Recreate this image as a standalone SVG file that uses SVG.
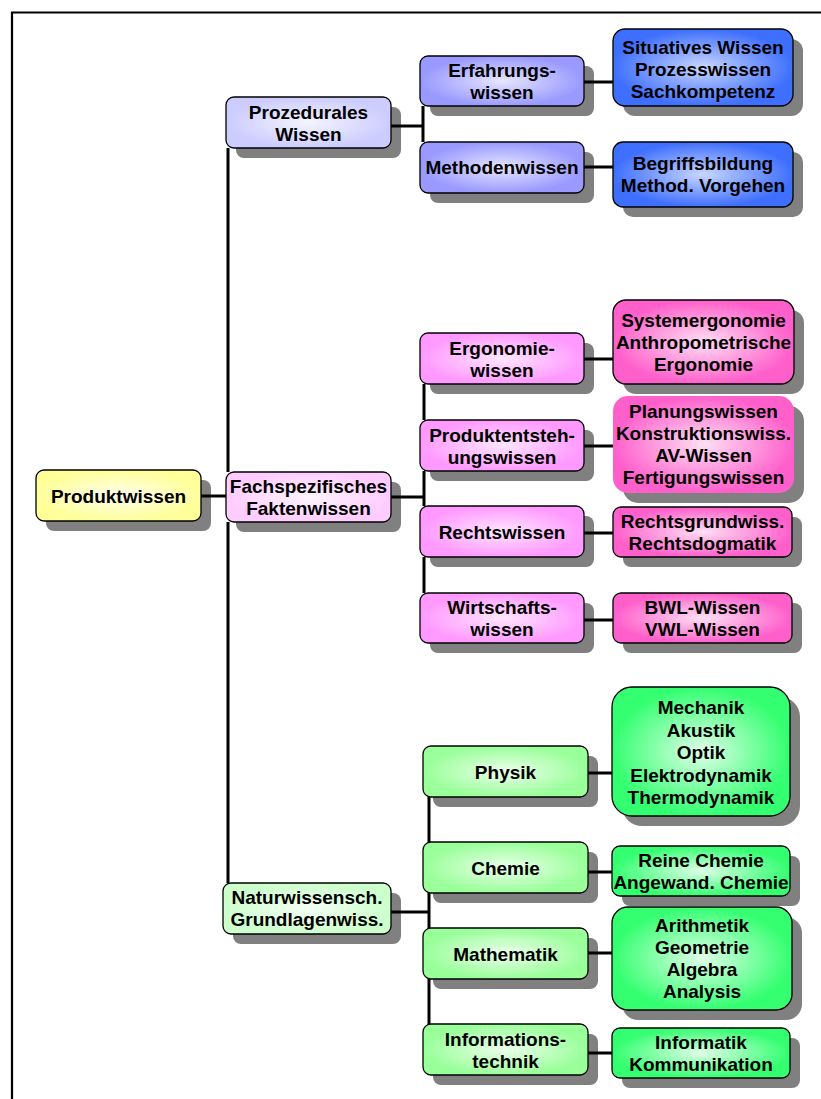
<svg xmlns="http://www.w3.org/2000/svg" width="821" height="1099" viewBox="0 0 821 1099">
  <defs>
    <radialGradient id="gYellow" cx="50%" cy="50%" r="50%"><stop offset="0" stop-color="#ffffee"/><stop offset="1" stop-color="#ffff99"/></radialGradient>
    <radialGradient id="gLav1" cx="50%" cy="50%" r="50%"><stop offset="0" stop-color="#f4f4ff"/><stop offset="1" stop-color="#ccccff"/></radialGradient>
    <radialGradient id="gLav2" cx="50%" cy="50%" r="50%"><stop offset="0" stop-color="#e6e6ff"/><stop offset="1" stop-color="#9999ff"/></radialGradient>
    <radialGradient id="gBlue" cx="50%" cy="50%" r="50%"><stop offset="0" stop-color="#c8d6ff"/><stop offset="1" stop-color="#3f6fff"/></radialGradient>
    <radialGradient id="gPink1" cx="50%" cy="50%" r="50%"><stop offset="0" stop-color="#fff4ff"/><stop offset="1" stop-color="#ffccff"/></radialGradient>
    <radialGradient id="gPink2" cx="50%" cy="50%" r="50%"><stop offset="0" stop-color="#ffe6ff"/><stop offset="1" stop-color="#ff99ff"/></radialGradient>
    <radialGradient id="gMag" cx="50%" cy="50%" r="50%"><stop offset="0" stop-color="#ffe0f4"/><stop offset="1" stop-color="#ff5fcb"/></radialGradient>
    <radialGradient id="gGreen1" cx="50%" cy="50%" r="50%"><stop offset="0" stop-color="#f4fff4"/><stop offset="1" stop-color="#ccffcc"/></radialGradient>
    <radialGradient id="gGreen2" cx="50%" cy="50%" r="50%"><stop offset="0" stop-color="#ecffec"/><stop offset="1" stop-color="#99ff99"/></radialGradient>
    <radialGradient id="gGreen3" cx="50%" cy="50%" r="50%"><stop offset="0" stop-color="#e0ffe8"/><stop offset="1" stop-color="#33ff70"/></radialGradient>
  </defs>
  <style>
    .shadow { fill: #808080; }
    .box { stroke: #000; stroke-width: 1.3; }
    .noline { stroke: none; }
    text { font-family: "Liberation Sans", Arial, sans-serif; font-weight: bold; font-size: 19px; fill: #000; text-anchor: middle; }
    .conn { stroke: #000; stroke-width: 3; fill: none; }
    .frame { stroke: #000; stroke-width: 2.2; fill: none; }
  </style>

  <rect width="821" height="1099" fill="#fff"/>
  <path class="frame" d="M12,1099 V12.5 H821"/>

  <!-- root -->
  <g id="produktwissen">
    <rect class="shadow" x="46" y="480" width="165" height="51" rx="8"/>
    <rect class="box" x="36" y="470" width="165" height="51" rx="8" fill="url(#gYellow)"/>
    <text x="118.5" y="503">Produktwissen</text>
  </g>

  <!-- procedural branch -->
  <g id="prozedurales-wissen">
    <rect class="shadow" x="236" y="107" width="165" height="51" rx="8"/>
    <rect class="box" x="226" y="97" width="165" height="51" rx="8" fill="url(#gLav1)"/>
    <text x="308.5" y="119">Prozedurales</text>
    <text x="308.5" y="141">Wissen</text>
  </g>
  <g id="erfahrungswissen">
    <rect class="shadow" x="430" y="66" width="164" height="50" rx="8"/>
    <rect class="box" x="420" y="56" width="164" height="50" rx="8" fill="url(#gLav2)"/>
    <text x="502" y="77">Erfahrungs-</text>
    <text x="502" y="99">wissen</text>
  </g>
  <g id="methodenwissen">
    <rect class="shadow" x="430" y="152" width="164" height="51" rx="8"/>
    <rect class="box" x="420" y="142" width="164" height="51" rx="8" fill="url(#gLav2)"/>
    <text x="502" y="174">Methodenwissen</text>
  </g>
  <g id="situatives-wissen">
    <rect class="shadow" x="623" y="39" width="180" height="77" rx="12"/>
    <rect class="box" x="613" y="29" width="180" height="77" rx="12" fill="url(#gBlue)"/>
    <text x="703" y="54">Situatives Wissen</text>
    <text x="703" y="76">Prozesswissen</text>
    <text x="703" y="98">Sachkompetenz</text>
  </g>
  <g id="begriffsbildung">
    <rect class="shadow" x="623" y="152" width="180" height="65" rx="10"/>
    <rect class="box" x="613" y="142" width="180" height="65" rx="10" fill="url(#gBlue)"/>
    <text x="703" y="170">Begriffsbildung</text>
    <text x="703" y="192">Method. Vorgehen</text>
  </g>

  <!-- subject-specific branch -->
  <g id="fachspezifisches-faktenwissen">
    <rect class="shadow" x="236" y="482" width="165" height="50" rx="8"/>
    <rect class="box" x="226" y="472" width="165" height="50" rx="8" fill="url(#gPink1)"/>
    <text x="308.5" y="493">Fachspezifisches</text>
    <text x="308.5" y="515">Faktenwissen</text>
  </g>
  <g id="ergonomiewissen">
    <rect class="shadow" x="430" y="343" width="164" height="51" rx="8"/>
    <rect class="box" x="420" y="333" width="164" height="51" rx="8" fill="url(#gPink2)"/>
    <text x="502" y="355">Ergonomie-</text>
    <text x="502" y="377">wissen</text>
  </g>
  <g id="produktentstehungswissen">
    <rect class="shadow" x="430" y="430" width="164" height="51" rx="8"/>
    <rect class="box" x="420" y="420" width="164" height="51" rx="8" fill="url(#gPink2)"/>
    <text x="502" y="442">Produktentsteh-</text>
    <text x="502" y="464">ungswissen</text>
  </g>
  <g id="rechtswissen">
    <rect class="shadow" x="430" y="516" width="164" height="51" rx="8"/>
    <rect class="box" x="420" y="506" width="164" height="51" rx="8" fill="url(#gPink2)"/>
    <text x="502" y="539">Rechtswissen</text>
  </g>
  <g id="wirtschaftswissen">
    <rect class="shadow" x="430" y="603" width="164" height="50" rx="8"/>
    <rect class="box" x="420" y="593" width="164" height="50" rx="8" fill="url(#gPink2)"/>
    <text x="502" y="614">Wirtschafts-</text>
    <text x="502" y="636">wissen</text>
  </g>
  <g id="systemergonomie">
    <rect class="shadow" x="623" y="310" width="181" height="84" rx="13"/>
    <rect class="box" x="613" y="300" width="181" height="84" rx="13" fill="url(#gMag)"/>
    <text x="703.5" y="327">Systemergonomie</text>
    <text x="703.5" y="349">Anthropometrische</text>
    <text x="703.5" y="371">Ergonomie</text>
  </g>
  <g id="planungswissen">
    <rect class="shadow" x="623" y="406" width="181" height="97" rx="15"/>
    <rect class="box noline" x="613" y="396" width="181" height="97" rx="15" fill="url(#gMag)"/>
    <text x="703.5" y="418">Planungswissen</text>
    <text x="703.5" y="440">Konstruktionswiss.</text>
    <text x="703.5" y="462">AV-Wissen</text>
    <text x="703.5" y="484">Fertigungswissen</text>
  </g>
  <g id="rechtsgrundwissen">
    <rect class="shadow" x="623" y="517" width="179" height="50" rx="8"/>
    <rect class="box" x="613" y="507" width="179" height="50" rx="8" fill="url(#gMag)"/>
    <text x="702.5" y="528">Rechtsgrundwiss.</text>
    <text x="702.5" y="550">Rechtsdogmatik</text>
  </g>
  <g id="bwl-vwl">
    <rect class="shadow" x="623" y="603" width="179" height="50" rx="8"/>
    <rect class="box" x="613" y="593" width="179" height="50" rx="8" fill="url(#gMag)"/>
    <text x="702.5" y="614">BWL-Wissen</text>
    <text x="702.5" y="636">VWL-Wissen</text>
  </g>

  <!-- natural science branch -->
  <g id="naturwissenschaftliche-grundlagen">
    <rect class="shadow" x="233" y="893" width="168" height="51" rx="8"/>
    <rect class="box" x="223" y="883" width="168" height="51" rx="8" fill="url(#gGreen1)"/>
    <text x="307" y="904">Naturwissensch.</text>
    <text x="307" y="926">Grundlagenwiss.</text>
  </g>
  <g id="physik">
    <rect class="shadow" x="433" y="756" width="165" height="51" rx="8"/>
    <rect class="box" x="423" y="746" width="165" height="51" rx="8" fill="url(#gGreen2)"/>
    <text x="505.5" y="779">Physik</text>
  </g>
  <g id="chemie">
    <rect class="shadow" x="433" y="852" width="165" height="51" rx="8"/>
    <rect class="box" x="423" y="842" width="165" height="51" rx="8" fill="url(#gGreen2)"/>
    <text x="505.5" y="875">Chemie</text>
  </g>
  <g id="mathematik">
    <rect class="shadow" x="433" y="938" width="165" height="51" rx="8"/>
    <rect class="box" x="423" y="928" width="165" height="51" rx="8" fill="url(#gGreen2)"/>
    <text x="505.5" y="961">Mathematik</text>
  </g>
  <g id="informationstechnik">
    <rect class="shadow" x="433" y="1034" width="165" height="51" rx="8"/>
    <rect class="box" x="423" y="1024" width="165" height="51" rx="8" fill="url(#gGreen2)"/>
    <text x="505.5" y="1046">Informations-</text>
    <text x="505.5" y="1068">technik</text>
  </g>
  <g id="mechanik">
    <rect class="shadow" x="622" y="697" width="178" height="129" rx="20"/>
    <rect class="box" x="612" y="687" width="178" height="129" rx="20" fill="url(#gGreen3)"/>
    <text x="701" y="714">Mechanik</text>
    <text x="701" y="736.5">Akustik</text>
    <text x="701" y="759">Optik</text>
    <text x="701" y="781.5">Elektrodynamik</text>
    <text x="701" y="804">Thermodynamik</text>
  </g>
  <g id="reine-chemie">
    <rect class="shadow" x="622" y="856" width="178" height="50" rx="8"/>
    <rect class="box" x="612" y="846" width="178" height="50" rx="8" fill="url(#gGreen3)"/>
    <text x="701" y="867">Reine Chemie</text>
    <text x="701" y="889">Angewand. Chemie</text>
  </g>
  <g id="arithmetik">
    <rect class="shadow" x="622" y="917" width="180" height="103" rx="16"/>
    <rect class="box" x="612" y="907" width="180" height="103" rx="16" fill="url(#gGreen3)"/>
    <text x="702" y="932">Arithmetik</text>
    <text x="702" y="954">Geometrie</text>
    <text x="702" y="976">Algebra</text>
    <text x="702" y="998">Analysis</text>
  </g>
  <g id="informatik">
    <rect class="shadow" x="622" y="1038" width="178" height="50" rx="8"/>
    <rect class="box" x="612" y="1028" width="178" height="50" rx="8" fill="url(#gGreen3)"/>
    <text x="701" y="1049">Informatik</text>
    <text x="701" y="1071">Kommunikation</text>
  </g>

  <!-- tree connectors (drawn only in the gaps between boxes) -->
  <g id="connectors" class="conn">
    <path d="M201,496 H226"/>
    <path d="M228,148 V472 M228,522 V883"/>
    <path d="M391,126 H423 M423,106 V142"/>
    <path d="M584,82 H613 M584,167 H613"/>
    <path d="M391,497 H424 M424,384 V420 M424,471 V506 M424,557 V593"/>
    <path d="M584,359 H613 M584,446 H613 M584,533 H613 M584,620 H613"/>
    <path d="M391,912 H429 M429,797 V842 M429,893 V928 M429,979 V1024"/>
    <path d="M588,773 H612 M588,872 H612 M588,953 H612 M588,1053 H612"/>
  </g>
</svg>
